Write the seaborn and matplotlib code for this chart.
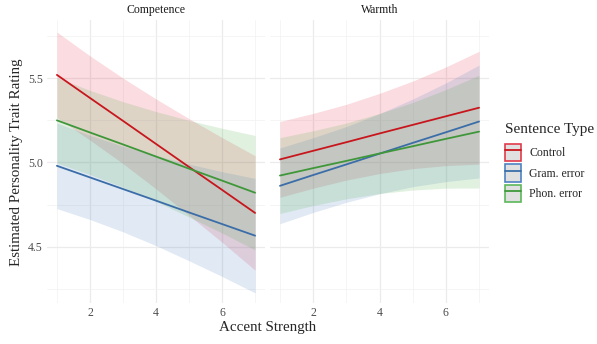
import numpy as np
import pandas as pd
import matplotlib
matplotlib.use("Agg")
import matplotlib.pyplot as plt
from matplotlib.patches import Patch
from matplotlib.lines import Line2D
import seaborn as sns

# data
accent = [1, 2, 3, 4, 5, 6, 7]
groups = ["Control", "Gram. error", "Phon. error"]
traits = ["Competence", "Warmth"]

comp_control = [5.520, 5.383, 5.247, 5.110, 4.973, 4.837, 4.700]
comp_gram = [4.980, 4.911, 4.842, 4.773, 4.703, 4.634, 4.565]
comp_phon = [5.250, 5.178, 5.107, 5.035, 4.963, 4.892, 4.820]
warm_control = [5.018, 5.069, 5.120, 5.172, 5.223, 5.274, 5.325]
warm_gram = [4.861, 4.925, 4.988, 5.052, 5.116, 5.179, 5.243]
warm_phon = [4.922, 4.966, 5.009, 5.053, 5.096, 5.140, 5.183]

# half width of the confidence band at each accent level
comp_ci = [0.254, 0.250, 0.254, 0.267, 0.287, 0.311, 0.340]
warm_ci = [0.225, 0.222, 0.225, 0.238, 0.260, 0.293, 0.335]

fits = {
    "Competence": [comp_control, comp_gram, comp_phon],
    "Warmth": [warm_control, warm_gram, warm_phon],
}
cis = {"Competence": comp_ci, "Warmth": warm_ci}

rows = []
for t in traits:
    for g, vals in zip(groups, fits[t]):
        for x, v, h in zip(accent, vals, cis[t]):
            rows.append({"trait": t, "type": g, "accent": x,
                         "fit": v, "lo": v - h, "hi": v + h})
df = pd.DataFrame(rows)

line_cols = {"Control": "#C8161D", "Gram. error": "#3B6DA8", "Phon. error": "#3F973A"}
fill_cols = {"Control": "#E8304A", "Gram. error": "#4A7EC0", "Phon. error": "#4DAF4A"}
edge_cols = {"Control": "#E23B4C", "Gram. error": "#4F83C2", "Phon. error": "#5DB85A"}

sns.set_theme(style="white")
plt.rcParams["font.family"] = ["Liberation Serif", "DejaVu Serif"]

fig = plt.figure(figsize=(5.97, 3.44), dpi=100)
ax1 = fig.add_axes([47 / 597, 41 / 344, 218 / 597, 283 / 344])
ax2 = fig.add_axes([270 / 597, 41 / 344, 219 / 597, 283 / 344], sharey=ax1)

for ax, t in zip([ax1, ax2], traits):
    sub = df[df.trait == t]
    for g in groups:
        s = sub[sub.type == g]
        ax.fill_between(s.accent, s.lo, s.hi, color=fill_cols[g], alpha=0.17, lw=0)
    sns.lineplot(data=sub, x="accent", y="fit", hue="type", palette=line_cols,
                 hue_order=groups, ax=ax, legend=False, lw=1.3)
    ax.set_xlim(0.7, 7.3)
    ax.set_ylim(4.165, 5.846)
    ax.set_xticks([2, 4, 6])
    ax.set_xticks([1, 3, 5, 7], minor=True)
    ax.set_yticks([4.5, 5.0, 5.5])
    ax.set_yticks([4.25, 4.75, 5.25, 5.75], minor=True)
    ax.grid(which="major", color="#EBEBEB", lw=0.9)
    ax.grid(which="minor", color="#F2F2F2", lw=0.5)
    ax.set_axisbelow(True)
    for sp in ax.spines.values():
        sp.set_visible(False)
    ax.tick_params(which="both", length=0, labelsize=8.5, labelcolor="#4D4D4D", pad=3)
    ax.set_xlabel("")
    ax.set_ylabel("")
    ax.set_title(t, fontsize=8.5, color="#1A1A1A", pad=5)

ax2.tick_params(labelleft=False)

fig.text(268 / 597, 1 - 328 / 344, "Accent Strength", ha="center", va="center", fontsize=10.8)
fig.text(17 / 597, 1 - 162 / 344, "Estimated Personality Trait Rating", ha="center", va="center",
         rotation=90, fontsize=10.8)

handles = [(Patch(facecolor="#E0E0E0", edgecolor=edge_cols[g], lw=1.2),
            Line2D([], [], color=line_cols[g], lw=1.3)) for g in groups]
leg = fig.legend(handles, groups, title="Sentence Type", loc="upper left",
                 bbox_to_anchor=(501 / 597, 1 - 119 / 344), frameon=False,
                 fontsize=8.5, title_fontsize=11, handlelength=1.4, handleheight=1.9,
                 labelspacing=0.25, handletextpad=0.7, alignment="left",
                 borderaxespad=0, borderpad=0.3)
leg._legend_box.sep = 6  # a bit more room under the legend title

fig.savefig("out.png", dpi=100)
